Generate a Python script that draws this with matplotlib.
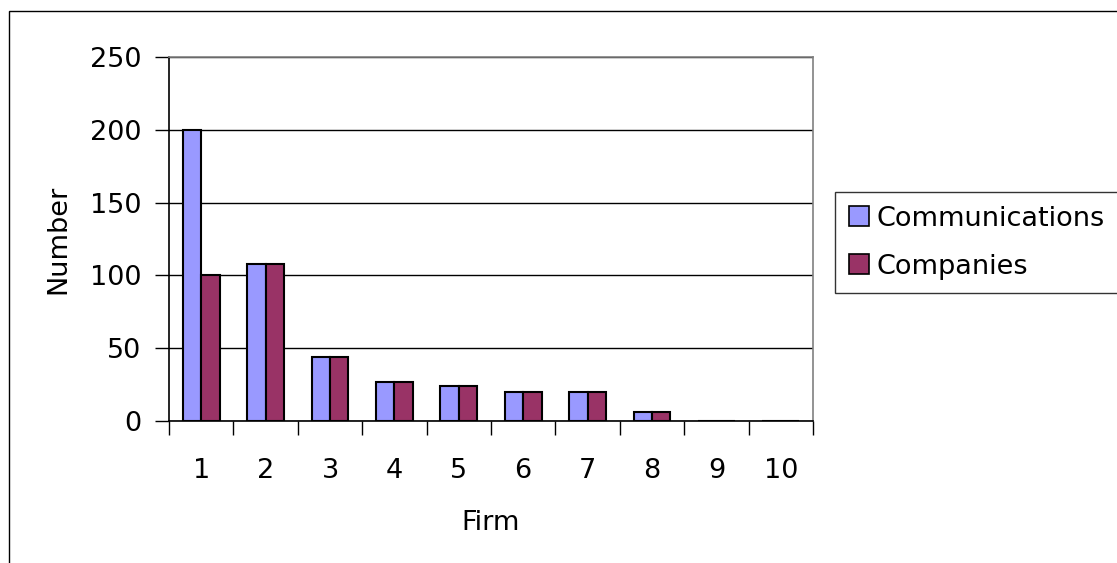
import numpy as np
import matplotlib
matplotlib.use("Agg")
import matplotlib.pyplot as plt
from matplotlib.patches import Rectangle

firms = ["1", "2", "3", "4", "5", "6", "7", "8", "9", "10"]
communications = [200, 108, 44, 27, 24, 20, 20, 6, 0, 0]
companies = [100, 108, 44, 27, 24, 20, 20, 6, 0, 0]
y_ticks = [0, 50, 100, 150, 200, 250]

plt.rcParams['font.family'] = ['DejaVu Sans']
FS = 19.5

W, H = 1117, 563
fig = plt.figure(figsize=(W / 100, H / 100), dpi=100)

# outer chart-area border (runs off the right and bottom edges)
fig.patches.append(Rectangle((9 / W, 1 - 580 / H), 1130 / W, 569 / H,
                             transform=fig.transFigure, fill=False,
                             edgecolor='black', linewidth=1, clip_on=False))

ax = fig.add_axes([169 / W, 1 - 421 / H, 644 / W, 364 / H])

x = np.arange(len(firms))
bw = 0.285
ax.bar(x - bw / 2, communications, bw, color='#9999FF', edgecolor='black',
       linewidth=1.5, label='Communications', zorder=3)
ax.bar(x + bw / 2, companies, bw, color='#993366', edgecolor='black',
       linewidth=1.5, label='Companies', zorder=3)

ax.set_xlim(-0.5, len(firms) - 0.5)
ax.set_ylim(0, 250)
ax.set_yticks(y_ticks)
ax.set_yticklabels([str(v) for v in y_ticks], fontsize=FS)

# labels at centres, tick marks at category boundaries
ax.set_xticks(x)
ax.set_xticklabels(firms, fontsize=FS)
ax.set_xticks(np.arange(len(firms) + 1) - 0.5, minor=True)
ax.tick_params(axis='x', which='major', length=0, pad=27)
ax.tick_params(axis='x', which='minor', length=10, width=1, direction='out')
ax.tick_params(axis='y', length=10, width=1, direction='out', pad=10)

ax.yaxis.grid(True, color='black', linewidth=1)
ax.set_axisbelow(True)

for s in ['left', 'bottom']:
    ax.spines[s].set_color('black')
    ax.spines[s].set_linewidth(1.2)
for s in ['top', 'right']:
    ax.spines[s].set_color('#808080')
    ax.spines[s].set_linewidth(1.2)

ax.set_xlabel("Firm", fontsize=FS, labelpad=18)
ax.set_ylabel("Number", fontsize=FS, labelpad=13)

leg = fig.legend(loc='upper left',
                 bbox_to_anchor=(835 / W, 1 - 289 / H, 300 / W, 97 / H),
                 mode='expand', fontsize=FS, frameon=True, fancybox=False,
                 borderaxespad=0, handlelength=0.74, handleheight=0.74,
                 handletextpad=0.3, labelspacing=0.82, borderpad=0.5)
leg.get_frame().set_edgecolor('black')
leg.get_frame().set_linewidth(1)
for h in leg.legend_handles:
    h.set_linewidth(1.2)

fig.savefig("out.png", dpi=100)
